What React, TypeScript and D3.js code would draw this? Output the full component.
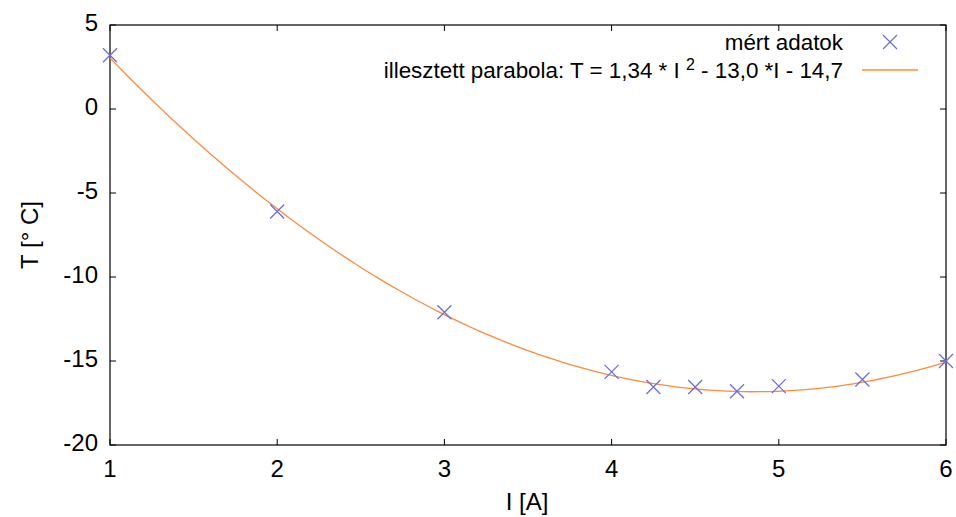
import React from "react";
import * as d3 from "d3";

const currentA = [1, 2, 3, 4, 4.25, 4.5, 4.75, 5, 5.5, 6];
const tempC = [3.2, -6.1, -12.1, -15.65, -16.55, -16.55, -16.8, -16.5, -16.1, -15.0];
const fitCoef = [1.34, -13.0, 14.7];
const xTicks = [1, 2, 3, 4, 5, 6];
const yTicks = [5, 0, -5, -10, -15, -20];

const W = 956, H = 517;
const M = { left: 110, right: 946, top: 25, bottom: 445 };
const FONT = "'Liberation Sans', Arial, sans-serif";
const FS = 24;
const LFS = 22.4;

export default function App() {
  const x = d3.scaleLinear().domain([1, 6]).range([M.left, M.right]);
  const y = d3.scaleLinear().domain([-20, 5]).range([M.bottom, M.top]);
  const samples = d3.range(0, 100).map((i) => 1 + (5 * i) / 99);
  const fit = samples.map((I) => [I, fitCoef[0] * I * I + fitCoef[1] * I + fitCoef[2]] as [number, number]);
  const line = d3.line<[number, number]>().x((d) => x(d[0])).y((d) => y(d[1]));
  const blue = "#6a6ae0";
  const orange = "#ff8a3c";
  const tk = 6;
  const cross = (cx: number, cy: number, key: any) => (
    <path key={key} d={`M${cx - 7},${cy - 7}L${cx + 7},${cy + 7}M${cx - 7},${cy + 7}L${cx + 7},${cy - 7}`} stroke={blue} strokeWidth={1.2} fill="none" />
  );
  return (
    <svg width={W} height={H} style={{ position: "absolute", left: 0, top: 0, background: "#fff" }} fontFamily={FONT}>
      <rect width={W} height={H} fill="#fff" />
      {xTicks.map((t) => (
        <g key={"x" + t}>
          <line x1={x(t)} x2={x(t)} y1={M.bottom} y2={M.bottom - tk} stroke="#000" />
          <line x1={x(t)} x2={x(t)} y1={M.top} y2={M.top + tk} stroke="#000" />
          <text x={x(t)} y={477} fontSize={FS} textAnchor="middle">{t}</text>
        </g>
      ))}
      {yTicks.map((t) => (
        <g key={"y" + t}>
          <line x1={M.left} x2={M.left + tk} y1={y(t)} y2={y(t)} stroke="#000" />
          <line x1={M.right} x2={M.right - tk} y1={y(t)} y2={y(t)} stroke="#000" />
          <text x={98} y={y(t) + 6} fontSize={FS} textAnchor="end">{t}</text>
        </g>
      ))}
      <rect x={M.left} y={M.top} width={M.right - M.left} height={M.bottom - M.top} fill="none" stroke="#000" strokeWidth={1.2} />
      <path d={line(fit) || ""} fill="none" stroke={orange} strokeWidth={1.3} />
      {currentA.map((I, i) => cross(x(I), y(tempC[i]), i))}
      <text x={843} y={50} fontSize={LFS} textAnchor="end">mért adatok</text>
      {cross(890, 42, "leg")}
      <text x={843} y={78} fontSize={LFS} textAnchor="end">
        illesztett parabola: T = 1,34 * I <tspan dy={-8} fontSize={16}>2</tspan><tspan dy={8}> - 13,0 *I - 14,7</tspan>
      </text>
      <line x1={862} x2={918} y1={70} y2={70} stroke={orange} strokeWidth={1.3} />
      <text x={527} y={510} fontSize={FS} textAnchor="middle">I [A]</text>
      <text transform="translate(38,235) rotate(-90)" fontSize={FS} textAnchor="middle">T [° C]</text>
    </svg>
  );
}
